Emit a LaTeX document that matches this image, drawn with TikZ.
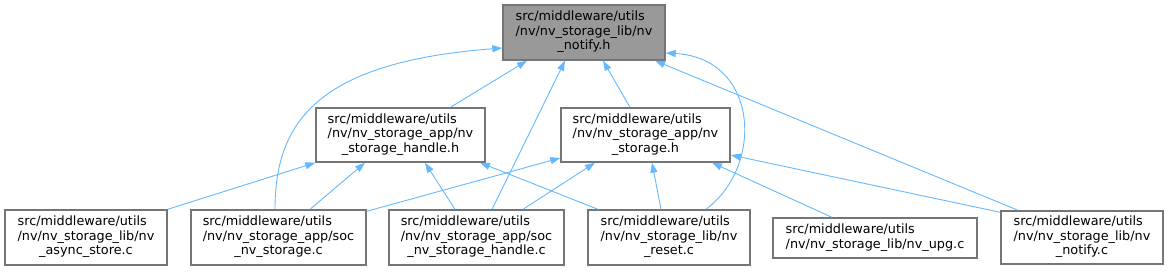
\documentclass[tikz,border=0pt]{standalone}
\usepackage{fontspec}
\setmainfont{DejaVu Sans}
\usetikzlibrary{arrows.meta}

\definecolor{edgeblue}{HTML}{63B8FF}
\definecolor{boxgray}{HTML}{757575}
\definecolor{rootfill}{HTML}{999999}

%% rotulo de arquivo: duas linhas a esquerda, ultima centrada
\newcommand{\doxlbl}[3]{%
  \begin{tabular}{@{}l@{}}#1\\#2\\\multicolumn{1}{@{}c@{}}{#3}\end{tabular}}
\newcommand{\doxlbltwo}[2]{%
  \begin{tabular}{@{}l@{}}#1\\#2\end{tabular}}

\begin{document}
\begin{tikzpicture}[x=1pt, y=1pt,
  %% caixas de arquivo
  fbox/.style={
    rectangle, draw=boxgray, line width=1.4pt,
    fill=white, inner sep=0pt, minimum height=55pt,
    font=\fontsize{12.8}{14.5}\selectfont
  },
  %% arquivo raiz (cinza)
  rootbox/.style={fbox, fill=rootfill},
  %% setas de inclusao
  arr/.style={-{Triangle[length=10pt,width=7pt]}, draw=edgeblue, line width=0.9pt}
]
\useasboundingbox (0,0) rectangle (1168,271);

%% ================================================================
%% RAIZ
%% ================================================================
\node[rootbox, minimum width=162pt] (root) at (584,238.5)
  {\doxlbl{src/middleware/utils}{/nv/nv\_storage\_lib/nv}{\_notify.h}};

%% ================================================================
%% NIVEL DO MEIO
%% ================================================================
\node[fbox, minimum width=169pt, minimum height=54pt] (handleh) at (400.5,136)
  {\doxlbl{src/middleware/utils}{/nv/nv\_storage\_app/nv}{\_storage\_handle.h}};
\node[fbox, minimum width=169pt, minimum height=54pt] (storageh) at (645.5,136)
  {\doxlbl{src/middleware/utils}{/nv/nv\_storage\_app/nv}{\_storage.h}};

%% ================================================================
%% ARQUIVOS .c
%% ================================================================
\node[fbox, minimum width=162pt] (async) at (86,33.5)
  {\doxlbl{src/middleware/utils}{/nv/nv\_storage\_lib/nv}{\_async\_store.c}};
\node[fbox, minimum width=175pt] (socst) at (278.5,33.5)
  {\doxlbl{src/middleware/utils}{/nv/nv\_storage\_app/soc}{\_nv\_storage.c}};
\node[fbox, minimum width=175pt] (socha) at (476.5,33.5)
  {\doxlbl{src/middleware/utils}{/nv/nv\_storage\_app/soc}{\_nv\_storage\_handle.c}};
\node[fbox, minimum width=162pt] (reset) at (669,33.5)
  {\doxlbl{src/middleware/utils}{/nv/nv\_storage\_lib/nv}{\_reset.c}};
\node[fbox, minimum width=204pt, minimum height=40pt] (upg) at (875,33)
  {\doxlbltwo{src/middleware/utils}{/nv/nv\_storage\_lib/nv\_upg.c}};
\node[fbox, minimum width=162pt, minimum height=53pt] (notifyc) at (1082,33.5)
  {\doxlbl{src/middleware/utils}{/nv/nv\_storage\_lib/nv}{\_notify.c}};

%% setas para a raiz
\draw[arr] ([xshift=50pt]handleh.north) -- ([xshift=-57pt]root.south);
\draw[arr] ([xshift=-15.5pt]storageh.north) -- ([xshift=19pt]root.south);
\draw[arr] ([xshift=15.5pt]socha.north) -- ([xshift=-19pt]root.south);
\draw[arr] ([xshift=-64pt]notifyc.north) -- ([xshift=71pt]root.south);
\draw[arr] ([xshift=-3.5pt]socst.north) .. controls (275,151) and (320,209) .. ([yshift=-15.5pt]root.west);
\draw[arr] ([xshift=37pt]reset.north) .. controls (765,106) and (758,213) .. ([yshift=-20.5pt]root.east);

%% setas para storage_handle.h
\draw[arr] (async.north east) -- (handleh.south west);
\draw[arr] ([xshift=31.5pt]socst.north) -- ([xshift=-35.5pt]handleh.south);
\draw[arr] ([xshift=-21.5pt]socha.north) -- ([xshift=24.5pt]handleh.south);
\draw[arr] ([xshift=-71pt]reset.north) -- ([xshift=79.5pt]handleh.south);

%% setas para storage.h
\draw[arr] ([yshift=-2pt]socst.north east) -- ([yshift=-23pt]storageh.west);
\draw[arr] ([xshift=46.5pt]socha.north) -- ([xshift=-50.5pt]storageh.south);
\draw[arr] ([xshift=-8pt]reset.north) -- ([xshift=6.5pt]storageh.south);
\draw[arr] ([xshift=-43pt]upg.north) -- ([xshift=66.5pt]storageh.south);
\draw[arr] ([yshift=-2pt]notifyc.north west) -- ([yshift=-20pt]storageh.east);

\end{tikzpicture}
\end{document}
